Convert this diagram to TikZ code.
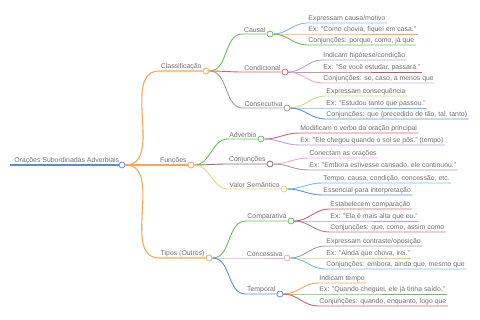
\documentclass[tikz,border=0pt]{standalone}
\usepackage{fontspec}
\setmainfont{Liberation Sans}
\definecolor{rootblue}{HTML}{5B8DC9}
\definecolor{corange}{HTML}{F5A65B}
\definecolor{cgreen}{HTML}{6BBF59}
\definecolor{cred}{HTML}{D6606E}
\definecolor{cgray}{HTML}{A0A0A0}
\definecolor{clblue}{HTML}{8DB4E0}
\definecolor{cpurple}{HTML}{AFA2DE}
\definecolor{cmaroon}{HTML}{A8626A}
\definecolor{cpink}{HTML}{EBA8D0}
\definecolor{cyelgreen}{HTML}{CCDC72}
\definecolor{cyellow}{HTML}{DCD878}
\definecolor{ccyan}{HTML}{6CC4E0}
\definecolor{cblue}{HTML}{5A93CF}
\definecolor{cmauve}{HTML}{B08090}
\definecolor{ctext}{HTML}{707070}
\begin{document}
\begin{tikzpicture}[x=1pt, y=-1pt, line width=0.9pt,
    lbl/.style={text=ctext, inner sep=1pt, font=\fontsize{6.9}{7.5}\selectfont},
    leaf/.style={lbl, anchor=south west},
    knot/.style={circle, fill=white, line width=0.8pt, inner sep=0pt, minimum size=6pt, draw=#1}]
	\useasboundingbox (0,0) rectangle (480,320);

	% root
	\coordinate (start) at (10,165);
	\node [knot=rootblue] (root) at (122,165) {};
	\node [lbl, anchor=south west] (root-t) at (13,165) {Orações Subordinadas Adverbiais};
	\draw [rootblue, line width=1.4pt] (start) -- (root);

	% first level
	\node [knot=corange] (cls) at (206,71) {};
	\node [knot=corange] (fun) at (191,165) {};
	\node [knot=corange] (tip) at (209,258) {};
	\node [lbl, anchor=south east] (cls-t) at (203,71) {Classificação};
	\node [lbl, anchor=south east] (fun-t) at (188,165) {Funções};
	\node [lbl, anchor=south east] (tip-t) at (206,258) {Tipos (Outros)};
	\begin{scope}[corange, line width=1.1pt]
		\draw (root) to[out=0, in=180] (cls-t.south west) -- (cls);
		\draw (root) to[out=0, in=180] (fun-t.south west) -- (fun);
		\draw (root) to[out=0, in=180] (tip-t.south west) -- (tip);
	\end{scope}

	% Classificacao
	\node [knot=cgreen] (cau) at (270,34) {};
	\node [knot=cred] (cnd) at (285,72) {};
	\node [knot=cgray] (cns) at (287,108) {};
	\node [lbl, anchor=south east] (cau-t) at (267,34) {Causal};
	\node [lbl, anchor=south east] (cnd-t) at (282,72) {Condicional};
	\node [lbl, anchor=south east] (cns-t) at (284,108) {Consecutiva};
	\draw [cgreen] (cls) to[out=0, in=180] (cau-t.south west) -- (cau);
	\draw [cred] (cls) to[out=0, in=180] (cnd-t.south west) -- (cnd);
	\draw [cgray] (cls) to[out=0, in=180] (cns-t.south west) -- (cns);

	\node [leaf] (cau1) at (307,23) {Expressam causa/motivo};
	\node [leaf] (cau2) at (307,34) {Ex: "Como chovia, fiquei em casa."};
	\node [leaf] (cau3) at (307,45) {Conjunções: porque, como, já que};
	\draw [clblue] (cau) to[out=0, in=180] (cau1.south west) -- (cau1.south east);
	\draw [corange] (cau) to[out=0, in=180] (cau2.south west) -- (cau2.south east);
	\draw [cgreen] (cau) to[out=0, in=180] (cau3.south west) -- (cau3.south east);

	\node [leaf] (cnd1) at (322,60) {Indicam hipótese/condição};
	\node [leaf] (cnd2) at (322,72) {Ex: "Se você estudar, passará."};
	\node [leaf] (cnd3) at (322,83) {Conjunções: se, caso, a menos que};
	\draw [cpurple] (cnd) to[out=0, in=180] (cnd1.south west) -- (cnd1.south east);
	\draw [cmaroon] (cnd) to[out=0, in=180] (cnd2.south west) -- (cnd2.south east);
	\draw [cpink] (cnd) to[out=0, in=180] (cnd3.south west) -- (cnd3.south east);

	\node [leaf] (cns1) at (325,96) {Expressam consequência};
	\node [leaf] (cns2) at (325,108) {Ex: "Estudou tanto que passou."};
	\node [leaf] (cns3) at (325,119) {Conjunções: que (precedido de tão, tal, tanto)};
	\draw [cyelgreen] (cns) to[out=0, in=180] (cns1.south west) -- (cns1.south east);
	\draw [ccyan] (cns) to[out=0, in=180] (cns2.south west) -- (cns2.south east);
	\draw [cblue] (cns) to[out=0, in=180] (cns3.south west) -- (cns3.south east);

	% Funcoes
	\node [knot=cgreen] (adv) at (261,139) {};
	\node [knot=cmaroon!80!gray] (cnj) at (270,164) {};
	\node [knot=cyellow] (val) at (284,189) {};
	\node [lbl, anchor=south east] (adv-t) at (258,139) {Advérbio};
	\node [lbl, anchor=south east] (cnj-t) at (267,164) {Conjunções};
	\node [lbl, anchor=south east] (val-t) at (281,189) {Valor Semântico};
	\draw [cgreen] (fun) to[out=0, in=180] (adv-t.south west) -- (adv);
	\draw [cmaroon] (fun) to[out=0, in=180] (cnj-t.south west) -- (cnj);
	\draw [cyellow] (fun) to[out=0, in=180] (val-t.south west) -- (val);

	\node [leaf] (adv1) at (299,133) {Modificam o verbo da oração principal};
	\node [leaf] (adv2) at (299,145) {Ex: "Ele chegou quando o sol se pôs." (tempo)};
	\draw [cred] (adv) to[out=0, in=180] (adv1.south west) -- (adv1.south east);
	\draw [cpurple] (adv) to[out=0, in=180] (adv2.south west) -- (adv2.south east);

	\node [leaf] (cnj1) at (308,158) {Conectam as orações};
	\node [leaf] (cnj2) at (308,170) {Ex: "Embora estivesse cansado, ele continuou."};
	\draw [cpink] (cnj) to[out=0, in=180] (cnj1.south west) -- (cnj1.south east);
	\draw [cgray] (cnj) to[out=0, in=180] (cnj2.south west) -- (cnj2.south east);

	\node [leaf] (val1) at (322,183) {Tempo, causa, condição, concessão, etc.};
	\node [leaf] (val2) at (322,195) {Essencial para interpretação};
	\draw [ccyan] (val) to[out=0, in=180] (val1.south west) -- (val1.south east);
	\draw [cblue] (val) to[out=0, in=180] (val2.south west) -- (val2.south east);

	% Tipos
	\node [knot=cgreen] (cmp) at (291,221) {};
	\node [knot=cpink] (ccs) at (287,258) {};
	\node [knot=cblue] (tmp) at (280,294) {};
	\node [lbl, anchor=south east] (cmp-t) at (288,221) {Comparativa};
	\node [lbl, anchor=south east] (ccs-t) at (284,258) {Concessiva};
	\node [lbl, anchor=south east] (tmp-t) at (277,294) {Temporal};
	\draw [cgreen] (tip) to[out=0, in=180] (cmp-t.south west) -- (cmp);
	\draw [cpink] (tip) to[out=0, in=180] (ccs-t.south west) -- (ccs);
	\draw [cblue] (tip) to[out=0, in=180] (tmp-t.south west) -- (tmp);

	\node [leaf] (cmp1) at (329,209) {Estabelecem comparação};
	\node [leaf] (cmp2) at (329,221) {Ex: "Ela é mais alta que eu."};
	\node [leaf] (cmp3) at (329,232) {Conjunções: que, como, assim como};
	\draw [cred] (cmp) to[out=0, in=180] (cmp1.south west) -- (cmp1.south east);
	\draw [cpurple] (cmp) to[out=0, in=180] (cmp2.south west) -- (cmp2.south east);
	\draw [cmauve] (cmp) to[out=0, in=180] (cmp3.south west) -- (cmp3.south east);

	\node [leaf] (ccs1) at (325,246) {Expressam contraste/oposição};
	\node [leaf] (ccs2) at (325,258) {Ex: "Ainda que chova, irei."};
	\node [leaf] (ccs3) at (325,269) {Conjunções: embora, ainda que, mesmo que};
	\draw [cgray] (ccs) to[out=0, in=180] (ccs1.south west) -- (ccs1.south east);
	\draw [cyellow] (ccs) to[out=0, in=180] (ccs2.south west) -- (ccs2.south east);
	\draw [ccyan] (ccs) to[out=0, in=180] (ccs3.south west) -- (ccs3.south east);

	\node [leaf] (tmp1) at (318,283) {Indicam tempo};
	\node [leaf] (tmp2) at (318,294) {Ex: "Quando cheguei, ele já tinha saído."};
	\node [leaf] (tmp3) at (318,306) {Conjunções: quando, enquanto, logo que};
	\draw [corange] (tmp) to[out=0, in=180] (tmp1.south west) -- (tmp1.south east);
	\draw [cgreen] (tmp) to[out=0, in=180] (tmp2.south west) -- (tmp2.south east);
	\draw [cred] (tmp) to[out=0, in=180] (tmp3.south west) -- (tmp3.south east);

\end{tikzpicture}
\end{document}
